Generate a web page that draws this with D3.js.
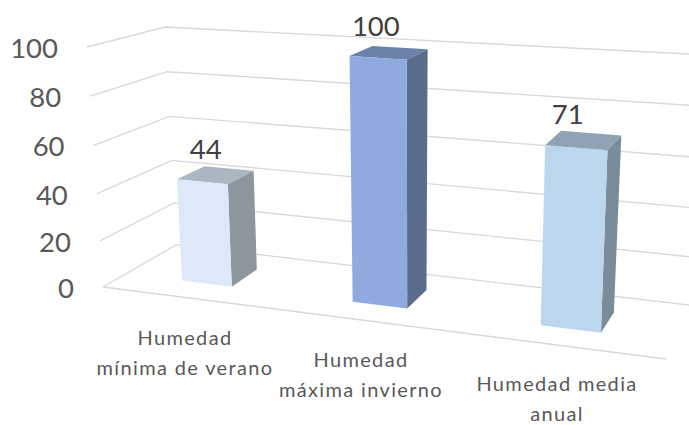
<!DOCTYPE html>
<html><head><meta charset="utf-8">
<script src="https://cdnjs.cloudflare.com/ajax/libs/d3/7.8.5/d3.min.js"></script>
<style>html,body{margin:0;padding:0;background:#fff}svg{display:block}text{font-family:Lato,"Open Sans",sans-serif}</style>
</head><body><svg id="c" width="689" height="425"></svg>
<script>
const categories = ["cat1","cat2","cat3"];
const categoryLines = [["Humedad","mínima de verano"],["Humedad","máxima invierno"],["Humedad media","anual"]];
const values = [44,100,71];
const ticks = [0,20,40,60,80,100];
const frontColors = ["#dde9f8","#8eaade","#bcd6ee"];
const topColors = ["#aab7c2","#6c82aa","#8fa3b4"];
const sideColors = ["#8d959d","#5b6c8d","#7a8b9a"];

// perspective cube corners: F front, B back, L left, R right, 0 floor, 1 top
const box = {F0L:[103,287],F1L:[87,47],B0L:[176,245],B1L:[165,27],
             F0R:[666,359],F1R:[678,89],B0R:[693,305.5],B1R:[708,55]};
const lerp=(a,b,t)=>[a[0]+(b[0]-a[0])*t,a[1]+(b[1]-a[1])*t];
const vWarp=d3.scaleLinear().domain(ticks).range([0,.192,.388,.59,.795,1]);
const uWarp=d3.scaleLinear().domain([0,1/6,1/2,5/6,1]).range([0,.145,.46,.808,1]);
const band=d3.scaleBand().domain(categories).range([0,1]).paddingInner(.7).paddingOuter(.35);
const depth=d3.scaleLinear().domain([0,1]).range([.32,.71]);
function P(u,v,d){
  const U=uWarp(u),V=vWarp(v);
  const f=lerp(lerp(box.F0L,box.F0R,U),lerp(box.F1L,box.F1R,U),V);
  const b=lerp(lerp(box.B0L,box.B0R,U),lerp(box.B1L,box.B1R,U),V);
  return lerp(f,b,d);
}
const svg=d3.select("#c");
const line=d3.line();
const gridColor="#d9d9d9";
const grid=svg.append("g").attr("fill","none").attr("stroke",gridColor).attr("stroke-width",1.4);
grid.selectAll("path.w").data(ticks).join("path").attr("class","w")
  .attr("d",t=>line([P(0,t,0),P(0,t,1),P(1,t,1)]));
grid.append("path").attr("d",line([P(0,0,0),P(1,0,0)]));

svg.append("g").selectAll("text").data(ticks).join("text")
  .attr("x",t=>P(0,t,0)[0]-29).attr("y",t=>P(0,t,0)[1]+1).attr("dy",".36em")
  .attr("text-anchor","end").attr("font-size",27.5).attr("fill","#595959").text(t=>t);

const bars=svg.append("g").selectAll("g").data(categories).join("g");
const poly=(pts)=>line(pts)+"Z";
const valueDx=d3.scaleLinear().domain([1/6,5/6]).range([-8,-14]);
bars.each(function(c,i){
  const g=d3.select(this),u0=band(c),u1=u0+band.bandwidth(),v=values[i],d0=depth(0),d1=depth(1);
  g.append("path").attr("fill",topColors[i]).attr("d",poly([P(u0,v,d0),P(u1,v,d0),P(u1,v,d1),P(u0,v,d1)]));
  g.append("path").attr("fill",sideColors[i]).attr("d",poly([P(u1,0,d0),P(u1,v,d0),P(u1,v,d1),P(u1,0,d1)]));
  g.append("path").attr("fill",frontColors[i]).attr("d",poly([P(u0,0,d0),P(u1,0,d0),P(u1,v,d0),P(u0,v,d0)]));
  const uc=(u0+u1)/2,m=P(uc,v,.5);
  g.append("text").attr("x",m[0]+valueDx(uc)).attr("y",m[1]-17).attr("text-anchor","middle")
   .attr("font-size",27.5).attr("fill","#404040").text(v);
});

const labelX=d3.scaleLinear().domain([1/6,1/2,5/6]).range([185,361,557]);
const labelY=d3.scaleLinear().domain([1/6,1/2,5/6]).range([345,367,390.5]);
svg.append("g").selectAll("text").data(categories).join("text")
  .attr("text-anchor","middle").attr("font-size",20).attr("letter-spacing",1.35).attr("fill","#595959")
  .each(function(c,i){
    const uc=band(c)+band.bandwidth()/2;
    d3.select(this).selectAll("tspan").data(categoryLines[i]).join("tspan")
      .attr("x",labelX(uc)).attr("y",(s,j)=>labelY(uc)+j*30).text(s=>s);
  });
</script></body></html>
